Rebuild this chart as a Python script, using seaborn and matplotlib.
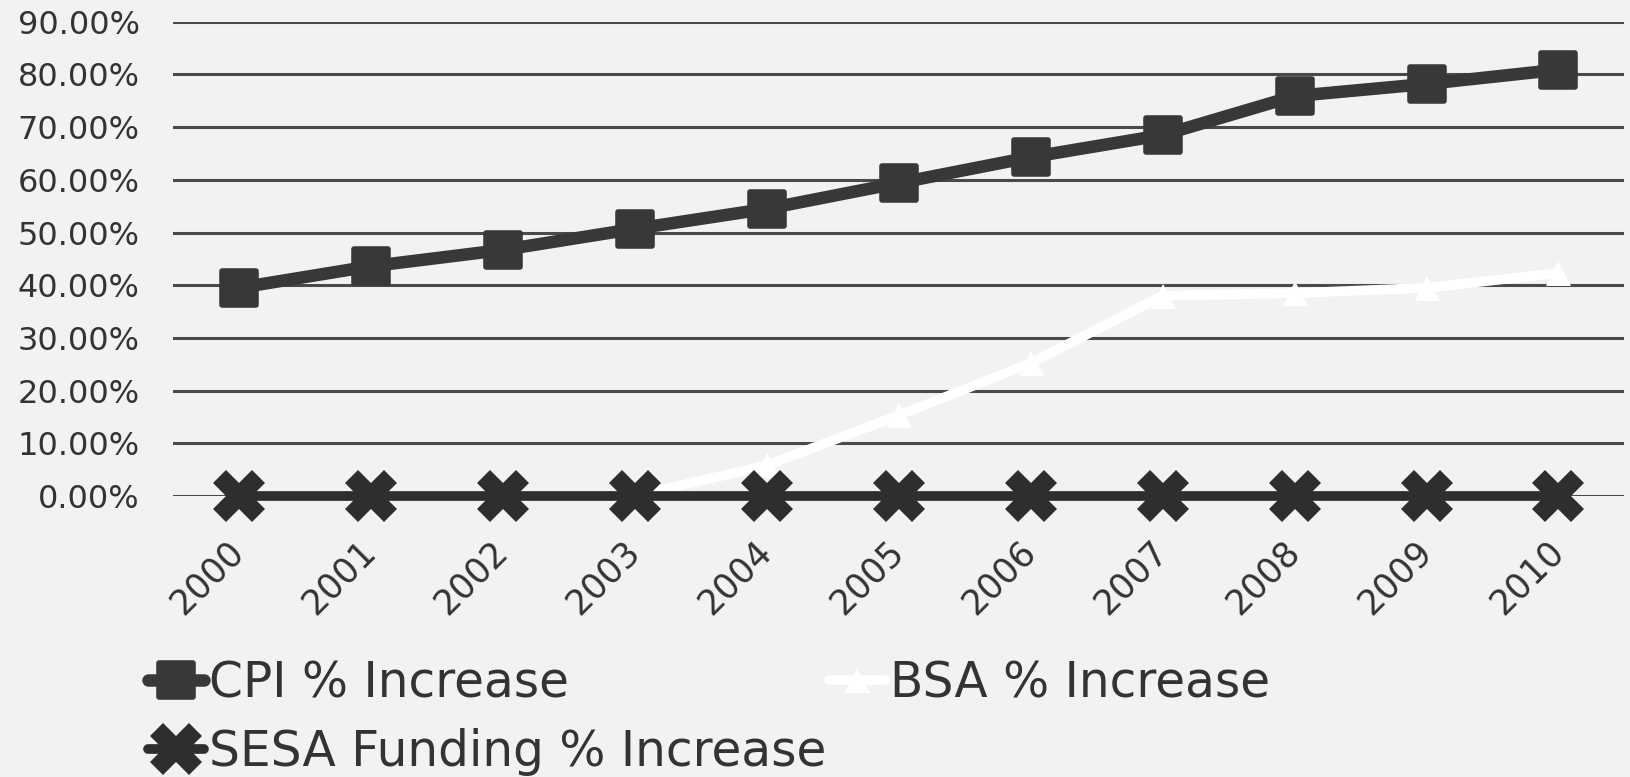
import numpy as np
import pandas as pd
import matplotlib
matplotlib.use("Agg")
import matplotlib.pyplot as plt
from matplotlib.markers import MarkerStyle
from matplotlib.ticker import PercentFormatter
import seaborn as sns

years = ["2000", "2001", "2002", "2003", "2004", "2005", "2006", "2007", "2008", "2009", "2010"]
cpi = [39.5, 43.6, 46.7, 50.7, 54.5, 59.4, 64.3, 68.5, 75.9, 78.2, 80.9]
bsa = [0.0, 0.0, 0.0, 0.0, 5.8, 15.3, 25.2, 38.0, 38.5, 39.5, 42.3]
sesa = [0.0, 0.0, 0.0, 0.0, 0.0, 0.0, 0.0, 0.0, 0.0, 0.0, 0.0]
series_names = ["CPI % Increase", "BSA % Increase", "SESA Funding % Increase"]
yticks = [0, 10, 20, 30, 40, 50, 60, 70, 80, 90]

sns.set_theme(style="white")
plt.rcParams["font.family"] = ["DejaVu Sans"]

bg = "#f2f2f2"
fig = plt.figure(figsize=(16.31, 7.77), dpi=100, facecolor=bg)
ax = fig.add_axes([0.106, 0.3617, 0.890, 0.6103])
ax.set_facecolor(bg)

pos = np.arange(len(years))
df = pd.DataFrame({"pos": pos, "cpi": cpi, "bsa": bsa, "sesa": sesa})

sq = MarkerStyle("s", joinstyle="round")
xm = MarkerStyle("X", joinstyle="miter")

sns.lineplot(data=df, x="pos", y="cpi", ax=ax, color="#383838", linewidth=9,
             marker=sq, markersize=24, markeredgewidth=4, markeredgecolor="#383838",
             markerfacecolor="#383838", label=series_names[0], zorder=3, clip_on=False)
sns.lineplot(data=df, x="pos", y="bsa", ax=ax, color="white", linewidth=7,
             marker="^", markersize=18, markeredgewidth=0, markerfacecolor="white",
             label=series_names[1], zorder=3.5, clip_on=False)
sns.lineplot(data=df, x="pos", y="sesa", ax=ax, color="#2e2e2e", linewidth=7,
             marker=xm, markersize=37, markeredgewidth=0, markerfacecolor="#2e2e2e",
             label=series_names[2], zorder=4, clip_on=False)

ax.set_xlim(-0.5, len(years) - 0.5)
ax.set_ylim(0, 90)
ax.set_yticks(yticks)
ax.yaxis.set_major_formatter(PercentFormatter(decimals=2))
ax.set_xticks(pos)
ax.set_xticklabels(years)
ax.grid(axis="y", color="#4a4a4a", linewidth=2.2)
ax.grid(axis="x", visible=False)
ax.set_axisbelow(True)
for s in ax.spines.values():
    s.set_visible(False)
ax.set_xlabel("")
ax.set_ylabel("")
ax.tick_params(axis="y", length=0, pad=24, labelsize=23, labelcolor="#333333")
ax.tick_params(axis="x", length=0, pad=36, labelsize=25, labelcolor="#333333")
for lab in ax.get_xticklabels():
    lab.set_rotation(45)
    lab.set_ha("right")
    lab.set_va("center")
    lab.set_rotation_mode("anchor")

handles, labels = ax.get_legend_handles_labels()
ax.get_legend().remove()
order = [0, 2, 1]
fig.legend([handles[i] for i in order], [labels[i] for i in order],
           loc="upper left", bbox_to_anchor=(0.076, 0.183), ncol=2,
           frameon=False, fontsize=35, handlelength=1.15, handletextpad=0.1,
           columnspacing=0.05, labelspacing=0.42, borderpad=0, labelcolor="#333333")

fig.savefig("out.png", dpi=100, facecolor=bg)
